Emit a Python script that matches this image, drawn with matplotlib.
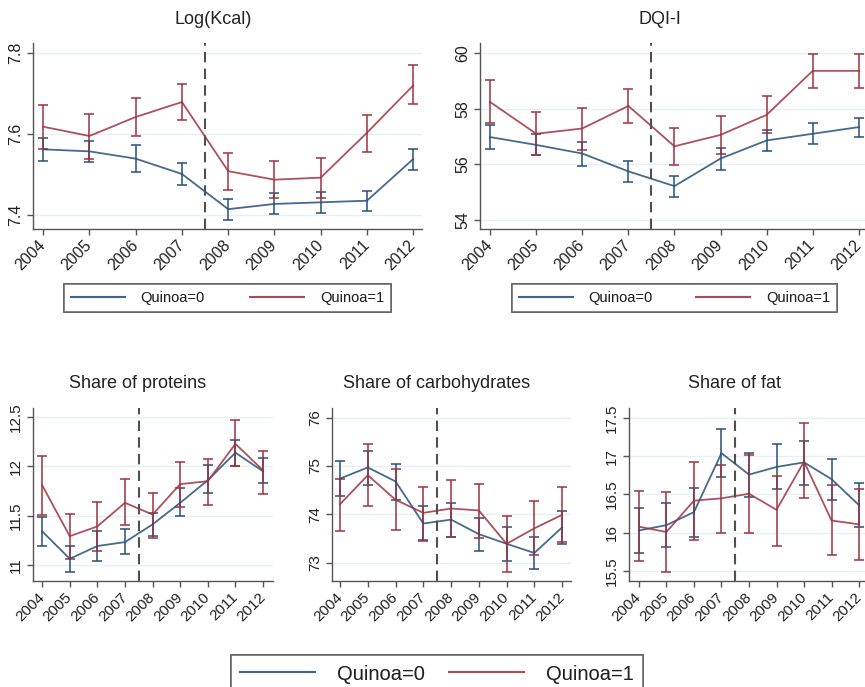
import matplotlib
matplotlib.use("Agg")
import matplotlib.pyplot as plt
from matplotlib.lines import Line2D

plt.rcParams['font.family'] = ['Liberation Sans', 'DejaVu Sans']

years = [2004, 2005, 2006, 2007, 2008, 2009, 2010, 2011, 2012]
year_labels = [str(y) for y in years]

# Log(Kcal)
kcal_q0 = [7.562, 7.557, 7.539, 7.501, 7.414, 7.427, 7.431, 7.435, 7.538]
kcal_q0_lo = [7.534, 7.530, 7.506, 7.473, 7.387, 7.401, 7.405, 7.410, 7.512]
kcal_q0_hi = [7.590, 7.583, 7.572, 7.527, 7.439, 7.454, 7.457, 7.459, 7.563]
kcal_q1 = [7.618, 7.595, 7.642, 7.679, 7.508, 7.487, 7.492, 7.603, 7.720]
kcal_q1_lo = [7.562, 7.539, 7.595, 7.635, 7.461, 7.441, 7.442, 7.556, 7.674]
kcal_q1_hi = [7.672, 7.650, 7.688, 7.723, 7.554, 7.533, 7.541, 7.648, 7.770]

# DQI-I
dqi_q0 = [56.98, 56.70, 56.39, 55.75, 55.22, 56.21, 56.86, 57.10, 57.34]
dqi_q0_lo = [56.54, 56.32, 55.94, 55.36, 54.83, 55.81, 56.48, 56.72, 57.00]
dqi_q0_hi = [57.43, 57.08, 56.82, 56.12, 55.57, 56.59, 57.23, 57.47, 57.68]
dqi_q1 = [58.24, 57.10, 57.29, 58.10, 56.65, 57.06, 57.78, 59.36, 59.36]
dqi_q1_lo = [57.47, 56.32, 56.52, 57.50, 55.98, 56.39, 57.11, 58.76, 58.76]
dqi_q1_hi = [59.03, 57.89, 58.04, 58.72, 57.30, 57.73, 58.45, 59.98, 59.96]

# Share of proteins
prot_q0 = [11.34, 11.06, 11.19, 11.23, 11.41, 11.63, 11.86, 12.14, 11.95]
prot_q0_lo = [11.19, 10.93, 11.04, 11.11, 11.29, 11.50, 11.73, 12.00, 11.83]
prot_q0_hi = [11.49, 11.19, 11.34, 11.36, 11.53, 11.78, 12.01, 12.27, 12.09]
prot_q1 = [11.81, 11.29, 11.39, 11.63, 11.51, 11.82, 11.85, 12.23, 11.96]
prot_q1_lo = [11.51, 11.06, 11.14, 11.40, 11.27, 11.59, 11.61, 12.00, 11.72]
prot_q1_hi = [12.11, 11.52, 11.64, 11.87, 11.73, 12.05, 12.08, 12.47, 12.16]

# Share of carbohydrates
carb_q0 = [74.74, 74.97, 74.68, 73.81, 73.89, 73.59, 73.39, 73.20, 73.73]
carb_q0_lo = [74.37, 74.61, 74.30, 73.46, 73.54, 73.24, 73.04, 72.87, 73.39]
carb_q0_hi = [75.10, 75.32, 75.05, 74.17, 74.23, 73.93, 73.73, 73.53, 74.07]
carb_q1 = [74.21, 74.81, 74.30, 74.03, 74.12, 74.08, 73.39, 73.71, 73.99]
carb_q1_lo = [73.66, 74.18, 73.68, 73.45, 73.54, 73.51, 72.81, 73.15, 73.43]
carb_q1_hi = [74.74, 75.46, 74.94, 74.57, 74.71, 74.63, 73.97, 74.28, 74.57]

# Share of fat
fat_q0 = [16.03, 16.10, 16.27, 17.04, 16.76, 16.86, 16.92, 16.70, 16.36]
fat_q0_lo = [15.74, 15.82, 15.95, 16.73, 16.47, 16.57, 16.63, 16.43, 16.07]
fat_q0_hi = [16.33, 16.39, 16.58, 17.35, 17.04, 17.16, 17.20, 16.97, 16.65]
fat_q1 = [16.08, 16.01, 16.42, 16.45, 16.51, 16.30, 16.93, 16.16, 16.11]
fat_q1_lo = [15.63, 15.49, 15.91, 16.00, 16.00, 15.83, 16.46, 15.71, 15.64]
fat_q1_hi = [16.55, 16.53, 16.92, 16.88, 17.02, 16.74, 17.43, 16.62, 16.57]

group_labels = ["Quinoa=0", "Quinoa=1"]
treat_year = 2007.5

BLUE = '#26507a'
RED = '#9e3340'
W, H = 865, 687

fig = plt.figure(figsize=(W / 100, H / 100), dpi=100)


def px_axes(l, t, r, b):
    return fig.add_axes([l / W, 1 - b / H, (r - l) / W, (b - t) / H])


panels = [
    dict(title="Log(Kcal)", box=(33, 43, 422, 229), xlim=(2003.78, 2012.19), ylim=(7.365, 7.825),
         yticks=[7.4, 7.6, 7.8], ylabels=["7.4", "7.6", "7.8"],
         data=(kcal_q0, kcal_q0_lo, kcal_q0_hi, kcal_q1, kcal_q1_lo, kcal_q1_hi),
         tpos=(213, 19), fs=11.5),
    dict(title="DQI-I", box=(480, 43, 868, 229), xlim=(2003.78, 2012.2), ylim=(53.68, 60.36),
         yticks=[54, 56, 58, 60], ylabels=["54", "56", "58", "60"],
         data=(dqi_q0, dqi_q0_lo, dqi_q0_hi, dqi_q1, dqi_q1_lo, dqi_q1_hi),
         tpos=(660, 19), fs=11.5),
    dict(title="Share of proteins", box=(33, 408, 273, 581), xlim=(2003.67, 2012.36), ylim=(10.834, 12.595),
         yticks=[11, 11.5, 12, 12.5], ylabels=["11", "11.5", "12", "12.5"],
         data=(prot_q0, prot_q0_lo, prot_q0_hi, prot_q1, prot_q1_lo, prot_q1_hi),
         tpos=(138, 383), fs=11),
    dict(title="Share of carbohydrates", box=(332, 408, 571, 581), xlim=(2003.71, 2012.32), ylim=(72.62, 76.2),
         yticks=[73, 74, 75, 76], ylabels=["73", "74", "75", "76"],
         data=(carb_q0, carb_q0_lo, carb_q0_hi, carb_q1, carb_q1_lo, carb_q1_hi),
         tpos=(437, 383), fs=11),
    dict(title="Share of fat", box=(629, 408, 869, 581), xlim=(2003.64, 2012.36), ylim=(15.37, 17.63),
         yticks=[15.5, 16, 16.5, 17, 17.5], ylabels=["15.5", "16", "16.5", "17", "17.5"],
         data=(fat_q0, fat_q0_lo, fat_q0_hi, fat_q1, fat_q1_lo, fat_q1_hi),
         tpos=(735, 383), fs=11),
]

for p in panels:
    ax = px_axes(*p['box'])
    m0, lo0, hi0, m1, lo1, hi1 = p['data']
    for m, lo, hi, col in ((m0, lo0, hi0, BLUE), (m1, lo1, hi1, RED)):
        err = [[a - b for a, b in zip(m, lo)], [b - a for a, b in zip(m, hi)]]
        ax.errorbar(years, m, yerr=err, color=col, lw=1.3, elinewidth=1.3, capsize=3.5,
                    capthick=1.3, alpha=0.85, zorder=3)
    ax.axvline(treat_year, color='#505050', lw=1.5, dashes=(5, 3), zorder=4)
    ax.set_xlim(*p['xlim'])
    ax.set_ylim(*p['ylim'])
    ax.set_xticks(years)
    ax.set_xticklabels(year_labels, rotation=45, ha='right', va='center',
                       rotation_mode='anchor', fontsize=p['fs'], color='#222222')
    ax.set_yticks(p['yticks'])
    ax.set_yticklabels(p['ylabels'], rotation=90, va='center', fontsize=p['fs'], color='#222222')
    ax.tick_params(axis='both', direction='out', length=4, width=1, color='#555555', pad=3)
    ax.tick_params(axis='x', pad=6)
    ax.yaxis.grid(True, color='#e6eff1', lw=1)
    ax.set_axisbelow(True)
    for s in ('top', 'right'):
        ax.spines[s].set_visible(False)
    for s in ('left', 'bottom'):
        ax.spines[s].set_color('#555555')
        ax.spines[s].set_linewidth(1)
    fig.text(p['tpos'][0] / W, 1 - p['tpos'][1] / H, p['title'], ha='center', va='center',
             fontsize=13, color='#222222')

handles = [Line2D([], [], color=BLUE, lw=1.5, alpha=0.85), Line2D([], [], color=RED, lw=1.5, alpha=0.85)]


def make_legend(l, t, r, b, fs):
    leg = fig.legend(handles, group_labels, loc='center', ncol=2, mode='expand',
                     bbox_to_anchor=(l / W, 1 - b / H, (r - l) / W, (b - t) / H),
                     bbox_transform=fig.transFigure, fontsize=fs, frameon=True,
                     fancybox=False, edgecolor='#555555', handlelength=3.7,
                     handletextpad=1.1, borderaxespad=0, borderpad=0.45)
    leg.get_frame().set_linewidth(1.2)
    for t_ in leg.get_texts():
        t_.set_color('#222222')
    return leg


fig.add_artist(make_legend(64, 284, 391, 312, 10.5))
fig.add_artist(make_legend(512, 284, 837, 312, 10.5))
fig.add_artist(make_legend(231, 653, 643, 695, 14.5))

fig.savefig("out.png", dpi=100)
